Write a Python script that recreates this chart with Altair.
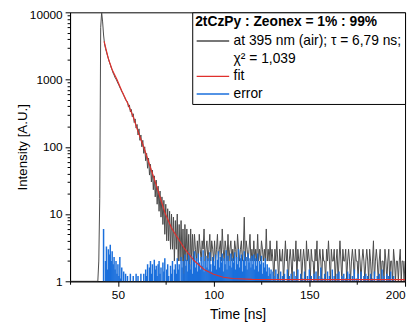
import altair as alt
import pandas as pd

# ---------------- data ----------------
T0 = 25.0          # first sample time of the decay trace [ns]
DT = 0.5           # sampling step [ns]
DECAY = (
    [1] * 30 +
    [2, 17, 6000, 10000, 7200, 4600] +
    [3400, 2900, 2580, 2290, 2060, 1830, 1670, 1500, 1390, 1250,
     1170, 1070, 1020, 950, 880, 830, 760, 720, 660, 630,
     580, 545, 500, 480] +
    [470, 390, 420, 330, 360, 280, 310, 230, 260, 190,
     215, 150, 185, 125, 150, 100, 125, 80, 100, 62,
     80, 48, 68, 38, 55, 30, 45, 23, 37, 18,
     32, 14, 26, 11, 22, 9, 18, 7, 16, 5,
     14, 4, 12, 4, 11, 3, 10, 3, 9, 2,
     8, 3, 10, 2, 7, 2, 8, 2, 6, 1,
     7, 2, 6, 2, 5, 1, 6, 2, 5, 2, 5] +
    [3, 2, 4, 2, 5, 3, 2, 4, 3, 6, 2, 3, 4, 2, 3, 5, 2, 4, 3, 2,
     4, 2, 3, 5, 2, 3, 4, 2, 6, 3, 2, 4, 3, 2, 5, 2, 3, 4, 2, 3,
     2, 4, 3, 2, 5, 3, 2, 3, 4, 2, 3, 9, 2, 4, 3, 2, 3, 5, 2, 3,
     2, 4, 2, 3, 2, 5, 2, 3, 2, 4, 3, 2, 3, 2, 6, 2, 3, 2, 4, 2] +
    [3, 2, 1, 3, 2, 4, 2, 1, 3, 2, 2, 3, 1, 2, 4, 2, 3, 1, 2, 3,
     2, 1, 3, 2, 2, 4, 1, 3, 2, 2, 3, 1, 2, 3, 2, 1, 4, 2, 3, 2,
     1, 3, 2, 2, 1, 3, 2, 4, 1, 2, 3, 2, 1, 3, 2, 2, 1, 3, 2, 4,
     2, 1, 3, 2, 2, 3, 1, 2, 3, 1, 2, 4, 2, 1, 3, 2, 2, 3, 1, 2,
     3, 2, 1, 2, 3, 2, 1, 3, 2, 2, 1, 3, 2, 1, 2, 3, 2, 1, 2, 3,
     2, 1, 3, 2, 1, 2, 4, 1, 2, 3, 2, 1, 2, 3, 1, 2, 2, 1, 3, 2,
     1, 2, 3, 1, 2, 2, 1, 3, 2, 1, 2, 2, 1, 2, 3, 1, 2, 2, 1, 2]
)

ERR_T0 = 42.5      # first sample time of the residual trace [ns]
ERROR = (
    [6, 1, 2, 3.3, 1.5, 3, 2.5, 3.5, 2, 2.8, 1.8, 2.3, 1.5, 2, 1.3, 1.8] +
    [1.2, 2.3, 1.1, 1.6, 1, 1.4, 1, 1.3, 1, 1.2] +
    [1, 1, 1.3, 1, 1, 1.2, 1, 1, 1.3, 1, 1.2, 1, 1, 1.3, 1, 1] +
    [1.3, 1, 1.5, 1.2, 1.8, 1, 1.6, 2, 1.3, 1.8, 1, 2.1, 1.5, 1.7] +
    [1.2, 1.8, 2, 1.3, 1.6, 1, 1.9, 1.4, 2.2, 1, 1.5, 1.8, 1.2, 1, 1.7, 1.3, 2, 1, 1.5, 1.8,
     1.3, 2.2, 1.5, 1.8, 1, 2.3, 1.6, 2, 1.3, 2.5, 1.7, 2.1, 1.4, 2.7, 1.8, 1.5, 2.4, 1.3, 2, 2.8,
     1.6, 2.2, 1.4, 2.6, 1.9, 1.5, 2.3, 1.7, 2.9, 1.4, 2, 2.4, 1.6, 2.2, 1.5, 2.7, 1.8, 1.4, 2.3, 2,
     1.7, 2.5, 1.5, 2.1, 2.8, 1.6, 2.3, 1.9, 2.6, 1.4, 2.2, 1.8, 2.9, 1.5, 2.4, 2, 1.7, 2.6, 1.6, 2.2,
     1.9, 2.7, 1.5, 2.3, 1.8, 3, 1.6, 2.2, 2.5, 1.4, 2.1, 2.8, 1.7, 2.3, 1.5, 2.6, 1.9, 2.2, 1.6, 2.4,
     1.8, 2.5, 1.5, 2.2, 1.7, 2.6, 1.4, 2, 1.8, 2.4, 1.3, 1.9, 1.6, 2.2, 1.4, 1.8, 1.2, 1.6, 1.3, 1.5,
     1, 1.4, 1.2, 1, 1.5, 1, 1.3, 1.1, 1, 1.4, 1, 1.2, 1, 1.3, 1, 1, 1.5, 1, 1.2, 1,
     1.3, 1, 1, 1.4, 1, 1.2, 1, 1.5, 1, 1, 1.3, 1, 1.1, 1, 1.4, 1, 1, 1.2, 1, 1.5,
     1, 1.2, 1, 1, 1.3, 1, 1.4, 1, 1, 1.2, 1, 1.6, 1, 1.1, 1, 1.3, 1, 1, 1.4, 1,
     1.2, 1, 1, 1.5, 1, 1.2, 1, 1, 1.3, 1, 1.4, 1, 1, 1.2, 1, 1.3, 1, 1.1, 1, 1.4,
     1, 1.3, 1, 1, 1.2, 1, 1.5, 1, 1.1, 1, 1.3, 1, 1, 1.4, 1, 1, 1.2, 1, 1.3, 1,
     1.2, 1, 1, 1.3, 1, 1.1, 1, 1.4, 1, 1, 1.2, 1, 1.3, 1, 1, 1.5, 1, 1.2, 1, 1,
     1.3, 1, 1.2, 1, 1.4, 1, 1, 1.2, 1, 1, 1, 1, 1, 1, 1, 1, 1, 1, 1, 1]
)

FIT_T = [42.8, 45, 47, 49.5, 52, 55, 58, 60, 63.4, 66, 70, 74.8, 78, 80, 85, 90,
         95, 100, 105, 110, 120, 150, 200]
FIT_V = [3700, 2050, 1400, 1000, 680, 450, 280, 185, 100, 60, 27, 10, 6.2, 5, 3, 2,
         1.5, 1.27, 1.15, 1.1, 1.07, 1.06, 1.06]

LEGEND_TITLE = "2tCzPy : Zeonex = 1% : 99%"
LBL_DATA = "at 395 nm (air); τ = 6,79 ns;"
LBL_CHI = "χ² = 1,039"
LBL_FIT = "fit"
LBL_ERR = "error"
SERIES = [LBL_DATA, LBL_CHI, LBL_FIT, LBL_ERR]
COLORS = ["#4a4a4a", "transparent", "#e0302c", "#1a6fdc"]

X_TICKS = [25, 50, 75, 100, 125, 150, 175, 200]
Y_TICKS = [m * d for d in [1, 10, 100, 1000] for m in range(1, 10)] + [10000]

# ---------------- tables ----------------
decay_df = pd.DataFrame({"t": [T0 + DT * i for i in range(len(DECAY))],
                         "v": DECAY, "s": LBL_DATA})
err_df = pd.DataFrame({"t": [ERR_T0 + DT * i for i in range(len(ERROR))],
                       "v": ERROR, "s": LBL_ERR})
fit_df = pd.DataFrame({"t": FIT_T, "v": FIT_V, "s": LBL_FIT})

FONT = "Liberation Sans"
DECADES = "indexof([1,10,100,1000,10000], datum.value) >= 0"

x_enc = alt.X(
    "t:Q",
    scale=alt.Scale(domain=[25, 200], nice=False, zero=False),
    axis=alt.Axis(
        title="Time [ns]", values=X_TICKS,
        labelExpr="datum.value % 50 == 0 ? datum.label : ''",
        tickSize={"condition": {"test": "datum.value % 50 == 0", "value": 5}, "value": 3},
        labelPadding=3, titlePadding=8, labelFontSize=12,
    ),
)
y_enc = alt.Y(
    "v:Q",
    scale=alt.Scale(type="log", domain=[1, 10000], nice=False),
    axis=alt.Axis(
        title="Intensity [A.U.]", values=Y_TICKS,
        labelExpr=DECADES + " ? format(datum.value, 'd') : ''",
        tickSize={"condition": {"test": DECADES, "value": 5}, "value": 3},
        labelOffset={"condition": {"test": "datum.value == 10000", "value": 2}, "value": 0},
        labelPadding=3, titlePadding=0, labelFontSize=12, titleFontSize=13.5,
    ),
)
color_enc = alt.Color(
    "s:N",
    scale=alt.Scale(domain=SERIES, range=COLORS),
    legend=alt.Legend(title=LEGEND_TITLE),
)

decay = alt.Chart(decay_df).mark_line(strokeWidth=1, clip=True).encode(
    x=x_enc, y=y_enc, color=color_enc)
err = alt.Chart(err_df).mark_rule(strokeWidth=1.5, clip=True).encode(
    x="t:Q", y="v:Q", y2=alt.datum(1), color=alt.Color("s:N"))
fit = alt.Chart(fit_df).mark_line(strokeWidth=1.2, clip=True).encode(
    x="t:Q", y="v:Q", color=alt.Color("s:N"))

chart = (
    alt.layer(decay, err, fit)
    .properties(width=340, height=273,
                autosize=alt.AutoSizeParams(type="none"),
                padding={"left": 63, "top": 2, "right": 3, "bottom": 45})
    .configure_view(stroke="black", strokeWidth=1)
    .configure_axis(grid=False, domainColor="black", tickColor="black",
                    labelColor="black", titleColor="black",
                    labelFont=FONT, titleFont=FONT, labelFontSize=12,
                    titleFontSize=14, titleFontWeight="normal")
    .configure_legend(orient="top-right", offset=0, padding=3,
                      strokeColor="black", fillColor="white", cornerRadius=0,
                      titleFont=FONT, titleFontSize=14, titleFontWeight="bold",
                      titleColor="black", titleLimit=400, titlePadding=5,
                      labelFont=FONT, labelFontSize=14, labelColor="black",
                      labelLimit=400, labelOffset=25,
                      symbolType="M-1,0H5", symbolSize=121, symbolStrokeWidth=1.5,
                      rowPadding=4)
)

chart.save("out.html", embed_options={"renderer": "svg", "actions": False})
